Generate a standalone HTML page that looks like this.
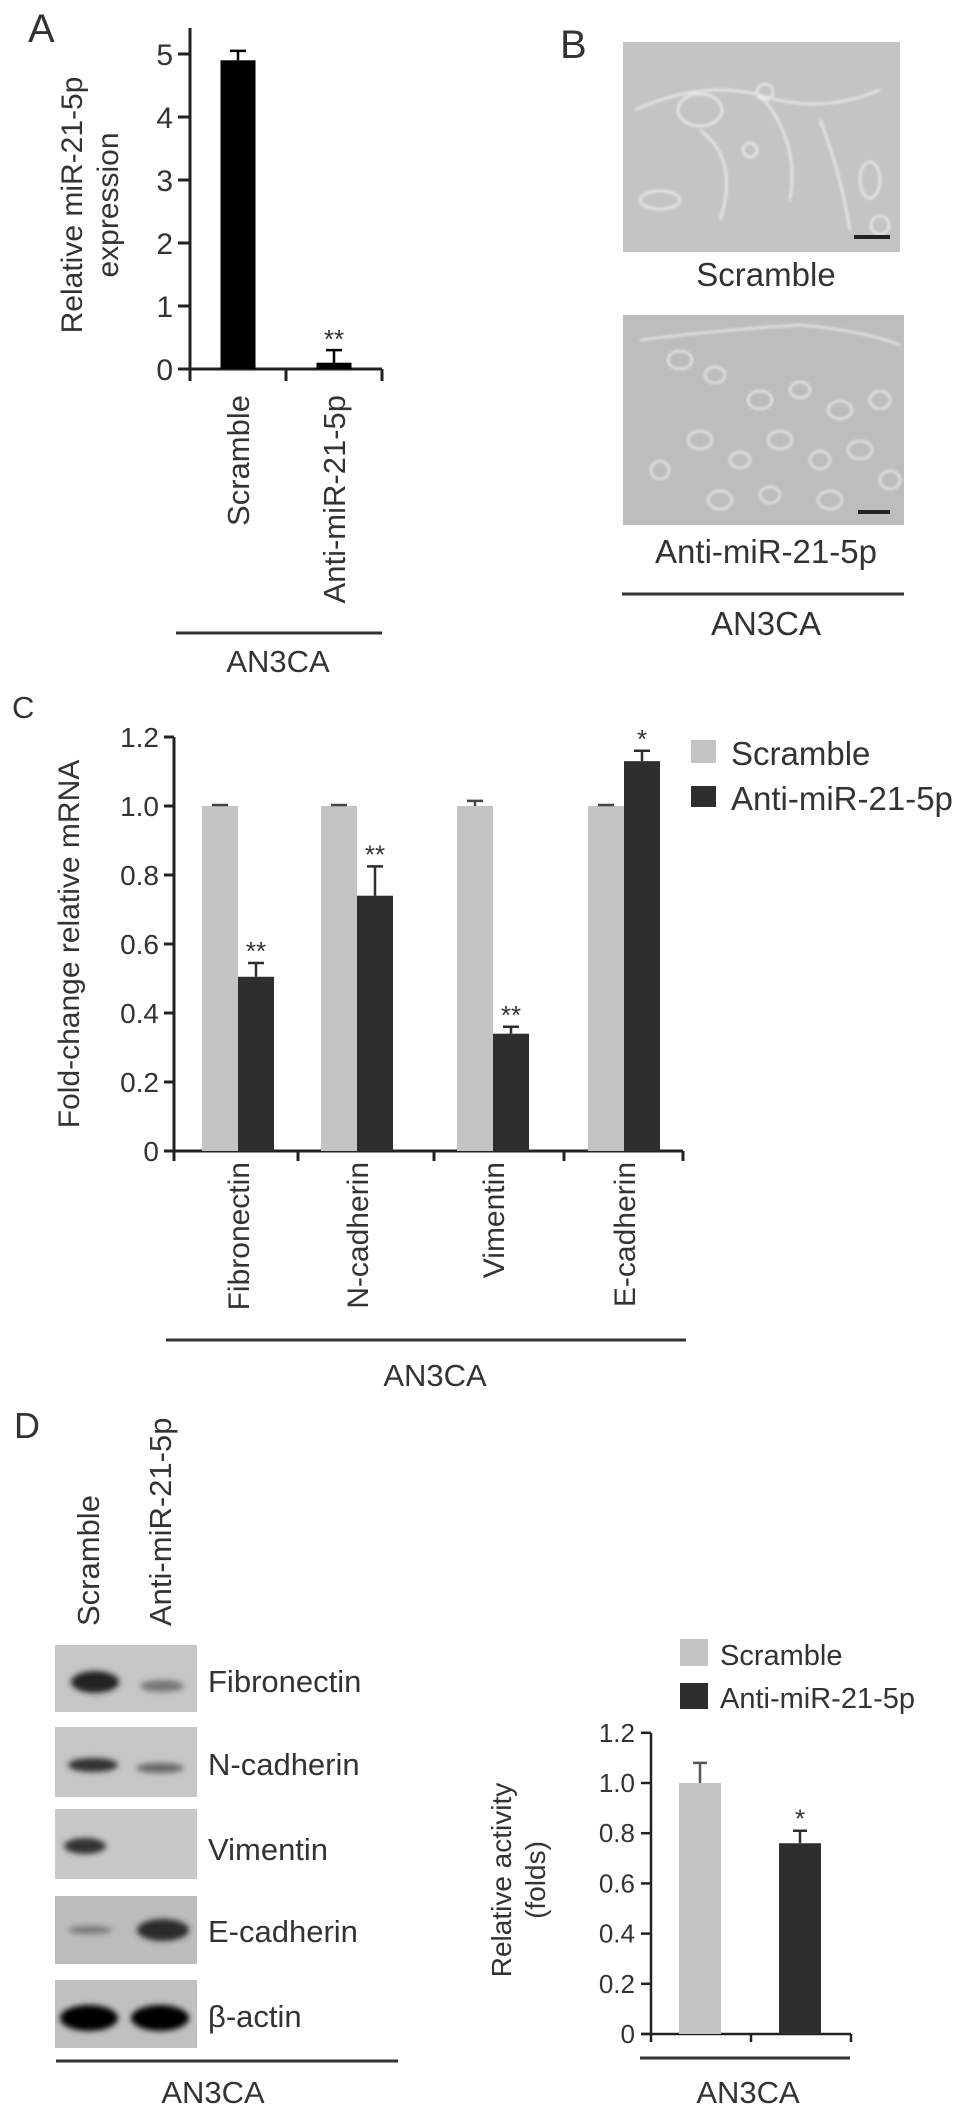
<!DOCTYPE html>
<html><head><meta charset="utf-8">
<style>
html,body{margin:0;padding:0;background:#fff;}
svg{display:block;font-family:"Liberation Sans",Arial,sans-serif;}
text{fill:#333;}
</style></head>
<body>
<svg id="fig" width="969" height="2118" viewBox="0 0 969 2118" xmlns="http://www.w3.org/2000/svg">
<defs>
  <filter id="blur3" x="-30%" y="-80%" width="160%" height="260%"><feGaussianBlur stdDeviation="3"/></filter>
  <filter id="blur1"><feGaussianBlur stdDeviation="1.2"/></filter>
</defs>

<text x="28" y="42" font-size="40">A</text>
<text x="560" y="58" font-size="40">B</text>
<text x="12" y="718" font-size="31">C</text>
<text x="14" y="1438" font-size="36">D</text>

<g id="panelA"></g>

<g>
  <g>
    <rect x="623" y="42" width="277" height="210" fill="#c4c4c4"/>
    <g fill="none" stroke="#e8e8e8" stroke-width="2.5" filter="url(#blur1)">
      <path d="M635 110 Q700 80 760 95 Q820 115 880 90"/>
      <path d="M700 130 Q740 160 720 220 M760 95 Q800 140 790 200 M820 120 Q840 170 850 230"/>
      <ellipse cx="700" cy="110" rx="22" ry="16"/><ellipse cx="765" cy="92" rx="8" ry="8"/>
      <ellipse cx="750" cy="150" rx="7" ry="7"/><ellipse cx="870" cy="180" rx="10" ry="18"/>
      <ellipse cx="660" cy="200" rx="20" ry="9"/><ellipse cx="880" cy="225" rx="9" ry="9"/>
    </g>
    <rect x="854" y="235" width="36" height="4" fill="#222"/>
  </g>
  <text x="766" y="286" font-size="33" text-anchor="middle">Scramble</text>
  <g>
    <rect x="623" y="315" width="281" height="210" fill="#bdbdbd"/>
    <g fill="none" stroke="#e6e6e6" stroke-width="2.2" filter="url(#blur1)">
      <ellipse cx="680" cy="360" rx="12" ry="9"/><ellipse cx="715" cy="375" rx="10" ry="8"/>
      <ellipse cx="760" cy="400" rx="12" ry="9"/><ellipse cx="800" cy="390" rx="10" ry="8"/>
      <ellipse cx="840" cy="410" rx="12" ry="9"/><ellipse cx="880" cy="400" rx="10" ry="9"/>
      <ellipse cx="700" cy="440" rx="12" ry="9"/><ellipse cx="740" cy="460" rx="10" ry="8"/>
      <ellipse cx="780" cy="440" rx="12" ry="9"/><ellipse cx="820" cy="460" rx="10" ry="9"/>
      <ellipse cx="860" cy="450" rx="12" ry="9"/><ellipse cx="890" cy="480" rx="10" ry="9"/>
      <ellipse cx="720" cy="500" rx="12" ry="9"/><ellipse cx="770" cy="495" rx="10" ry="8"/>
      <ellipse cx="830" cy="500" rx="12" ry="9"/><ellipse cx="660" cy="470" rx="9" ry="9"/>
      <path d="M640 340 Q720 330 800 325 Q860 330 900 345"/>
    </g>
    <rect x="858" y="510" width="32" height="4" fill="#222"/>
  </g>
  <text x="766" y="563" font-size="33" text-anchor="middle">Anti-miR-21-5p</text>
  <line x1="622" y1="594" x2="904" y2="594" stroke="#333" stroke-width="3"/>
  <text x="766" y="635" font-size="33" text-anchor="middle">AN3CA</text>
</g>

<g id="panelC"></g>

<g>
  <text transform="translate(99,1626) rotate(-90)" font-size="31">Scramble</text>
  <text transform="translate(171,1626) rotate(-90)" font-size="31">Anti-miR-21-5p</text>
  <g>
    <rect x="55" y="1645" width="142" height="67" fill="#c6c6c6"/>
    <ellipse cx="95" cy="1682" rx="24" ry="11" fill="#222" filter="url(#blur3)"/>
    <ellipse cx="162" cy="1686" rx="22" ry="6" fill="#777" filter="url(#blur3)"/>
  </g>
  <g>
    <rect x="55" y="1727" width="142" height="70" fill="#c6c6c6"/>
    <ellipse cx="93" cy="1765" rx="25" ry="7" fill="#333" filter="url(#blur3)"/>
    <ellipse cx="160" cy="1768" rx="24" ry="5" fill="#666" filter="url(#blur3)"/>
  </g>
  <g>
    <rect x="55" y="1809" width="142" height="70" fill="#c8c8c8"/>
    <ellipse cx="85" cy="1846" rx="21" ry="8" fill="#333" filter="url(#blur3)"/>
  </g>
  <g>
    <rect x="55" y="1896" width="142" height="68" fill="#bcbcbc"/>
    <ellipse cx="90" cy="1930" rx="22" ry="4" fill="#777" filter="url(#blur3)"/>
    <ellipse cx="163" cy="1930" rx="26" ry="11" fill="#2a2a2a" filter="url(#blur3)"/>
  </g>
  <g>
    <rect x="55" y="1980" width="142" height="68" fill="#c0c0c0"/>
    <ellipse cx="89" cy="2018" rx="29" ry="13" fill="#000" filter="url(#blur3)"/>
    <ellipse cx="160" cy="2018" rx="29" ry="13" fill="#000" filter="url(#blur3)"/>
  </g>
  <text x="208" y="1692" font-size="31">Fibronectin</text>
  <text x="208" y="1775" font-size="31">N-cadherin</text>
  <text x="208" y="1860" font-size="31">Vimentin</text>
  <text x="208" y="1942" font-size="31">E-cadherin</text>
  <text x="208" y="2027" font-size="31">β-actin</text>
  <line x1="56" y1="2061" x2="398" y2="2061" stroke="#333" stroke-width="3"/>
  <text x="213" y="2103" font-size="31" text-anchor="middle">AN3CA</text>
</g>

<g id="panelD"></g>
</svg>

<script>
// ---- Panel A data ----
const aCategories = ["Scramble", "Anti-miR-21-5p"];
const aValues = [4.9, 0.1];
const aErrors = [0.15, 0.2];
const aStars = ["", "**"];
const aTicks = [0, 1, 2, 3, 4, 5];

// ---- Panel C data ----
const cCategories = ["Fibronectin", "N-cadherin", "Vimentin", "E-cadherin"];
const cScramble = [1.0, 1.0, 1.0, 1.0];
const cScrambleErr = [0.003, 0.003, 0.015, 0.003];
const cAnti = [0.505, 0.74, 0.34, 1.13];
const cAntiErr = [0.04, 0.085, 0.02, 0.03];
const cStars = ["**", "**", "**", "*"];
const cTicks = ["0", "0.2", "0.4", "0.6", "0.8", "1.0", "1.2"];

// ---- Panel D chart data ----
const dCategories = ["Scramble", "Anti-miR-21-5p"];
const dValues = [1.0, 0.76];
const dErrors = [0.08, 0.05];
const dStars = ["", "*"];
const dTicks = ["0", "0.2", "0.4", "0.6", "0.8", "1.0", "1.2"];

const NS = "http://www.w3.org/2000/svg";
function mk(parent, tag, attrs, txt) {
  const e = document.createElementNS(NS, tag);
  for (const k in attrs) e.setAttribute(k, attrs[k]);
  if (txt !== undefined) e.textContent = txt;
  parent.appendChild(e);
  return e;
}

(function(){
  const g = document.getElementById("panelA");
  const x0 = 190, y0 = 369, yTop = 28, xEnd = 382;
  const yA = v => y0 - v * 63;
  const slot = (xEnd - x0) / aCategories.length;
  const cx = i => x0 + slot * (i + 0.5);
  let e = mk(g, "line", {x1:x0, y1:yTop, x2:x0, y2:y0+12, stroke:"#222", "stroke-width":3});
  
  
  e = mk(g, "line", {x1:x0-12, y1:y0, x2:xEnd, y2:y0, stroke:"#222", "stroke-width":3});
  
  
  for (let i = 1; i <= aCategories.length; i++) {
    e = mk(g, "line", {x1:x0+slot*i, y1:y0, x2:x0+slot*i, y2:y0+12, stroke:"#222", "stroke-width":3});
    
    
  }
  aTicks.forEach(t => {
    e = mk(g, "line", {x1:x0-12, y1:yA(t), x2:x0, y2:yA(t), stroke:"#222", "stroke-width":3});
    
    
    e = mk(g, "text", {x:x0-17, y:yA(t)+11, "font-size":30, "text-anchor":"end"}, String(t));
    
    
  });
  aCategories.forEach((c, i) => {
    const bw = 35, x = cx(i) - bw/2;
    e = mk(g, "rect", {x:x, y:yA(aValues[i]), width:bw, height:y0-yA(aValues[i]), fill:"#000"});
    
    
    const ye = yA(aValues[i] + aErrors[i]);
    e = mk(g, "path", {d:`M${cx(i)} ${yA(aValues[i])} V${ye} M${cx(i)-8} ${ye} H${cx(i)+8}`, stroke:"#000", "stroke-width":2.5, fill:"none"});
    
    
    if (aStars[i]) {
      e = mk(g, "text", {x:cx(i), y:ye-2, "font-size":26, "text-anchor":"middle"}, aStars[i]);
      
      
    }
    e = mk(g, "text", {transform:`translate(${cx(i)+11},${395}) rotate(-90)`, "font-size":31, "text-anchor":"end"}, c);
    
    
  });
  e = mk(g, "text", {transform:"translate(82,205) rotate(-90)", "font-size":30, "text-anchor":"middle"}, "Relative miR-21-5p");
  
  
  e = mk(g, "text", {transform:"translate(118,205) rotate(-90)", "font-size":30, "text-anchor":"middle"}, "expression");
  
  
  e = mk(g, "line", {x1:176, y1:633, x2:382, y2:633, stroke:"#333", "stroke-width":3});
  
  
  e = mk(g, "text", {x:278, y:672, "font-size":31, "text-anchor":"middle"}, "AN3CA");
  
  
})();

(function(){
  const g = document.getElementById("panelC");
  const x0 = 174, y0 = 1151, yTop = 737, xEnd = 683;
  const yC = v => y0 - v * 345;
  const groupStart = [202, 321, 457, 588];
  const bw = 36;
  let e = mk(g, "line", {x1:x0, y1:yTop, x2:x0, y2:y0+10, stroke:"#222", "stroke-width":3});
  
  
  e = mk(g, "line", {x1:x0-10, y1:y0, x2:xEnd, y2:y0, stroke:"#222", "stroke-width":3});
  
  
  [298, 434, 564, 683].forEach(tx => {
    e = mk(g, "line", {x1:tx, y1:y0, x2:tx, y2:y0+10, stroke:"#222", "stroke-width":3});
    
    
  });
  cTicks.forEach(t => {
    const y = yC(parseFloat(t));
    e = mk(g, "line", {x1:x0-10, y1:y, x2:x0, y2:y, stroke:"#222", "stroke-width":3});
    
    
    e = mk(g, "text", {x:x0-15, y:y+10, "font-size":28, "text-anchor":"end"}, t);
    
    
  });
  cCategories.forEach((c, i) => {
    const xs = groupStart[i], xa = xs + bw;
    e = mk(g, "rect", {x:xs, y:yC(cScramble[i]), width:bw, height:y0-yC(cScramble[i]), fill:"#c4c4c4"});
    
    
    let ye = yC(cScramble[i] + cScrambleErr[i]);
    e = mk(g, "path", {d:`M${xs+bw/2} ${yC(cScramble[i])} V${ye} M${xs+bw/2-8} ${ye} H${xs+bw/2+8}`, stroke:"#444", "stroke-width":2.5, fill:"none"});
    
    
    e = mk(g, "rect", {x:xa, y:yC(cAnti[i]), width:bw, height:y0-yC(cAnti[i]), fill:"#2e2e2e"});
    
    
    ye = yC(cAnti[i] + cAntiErr[i]);
    e = mk(g, "path", {d:`M${xa+bw/2} ${yC(cAnti[i])} V${ye} M${xa+bw/2-8} ${ye} H${xa+bw/2+8}`, stroke:"#2e2e2e", "stroke-width":2.5, fill:"none"});
    
    
    e = mk(g, "text", {x:xa+bw/2, y:ye-3, "font-size":26, "text-anchor":"middle"}, cStars[i]);
    
    
    e = mk(g, "text", {transform:`translate(${xs+bw+11},1162) rotate(-90)`, "font-size":30, "text-anchor":"end"}, c);
    
    
  });
  e = mk(g, "text", {transform:"translate(79,944) rotate(-90)", "font-size":30, "text-anchor":"middle"}, "Fold-change relative mRNA");
  
  
  e = mk(g, "rect", {x:691, y:740, width:25, height:23, fill:"#c4c4c4"});
  
  
  e = mk(g, "text", {x:731, y:765, "font-size":33}, "Scramble");
  
  
  e = mk(g, "rect", {x:691, y:786, width:25, height:21, fill:"#2e2e2e"});
  
  
  e = mk(g, "text", {x:731, y:810, "font-size":33}, "Anti-miR-21-5p");
  
  
  e = mk(g, "line", {x1:166, y1:1340, x2:686, y2:1340, stroke:"#333", "stroke-width":3});
  
  
  e = mk(g, "text", {x:435, y:1386, "font-size":31, "text-anchor":"middle"}, "AN3CA");
  
  
})();

(function(){
  const g = document.getElementById("panelD");
  const x0 = 651, y0 = 2034, yTop = 1733, xEnd = 851;
  const yD = v => y0 - v * 251;
  const slot = (xEnd - x0) / dCategories.length;
  const cx = i => x0 + slot * (i + 0.5);
  const fills = ["#c4c4c4", "#2e2e2e"];
  let e = mk(g, "line", {x1:x0, y1:yTop, x2:x0, y2:y0+8, stroke:"#222", "stroke-width":2.5});
  
  
  e = mk(g, "line", {x1:x0-10, y1:y0, x2:xEnd, y2:y0, stroke:"#222", "stroke-width":2.5});
  
  
  for (let i = 1; i <= dCategories.length; i++) {
    e = mk(g, "line", {x1:x0+slot*i, y1:y0, x2:x0+slot*i, y2:y0+8, stroke:"#222", "stroke-width":2.5});
    
    
  }
  dTicks.forEach(t => {
    const y = yD(parseFloat(t));
    e = mk(g, "line", {x1:x0-10, y1:y, x2:x0, y2:y, stroke:"#222", "stroke-width":2.5});
    
    
    e = mk(g, "text", {x:x0-16, y:y+9, "font-size":26, "text-anchor":"end"}, t);
    
    
  });
  dCategories.forEach((c, i) => {
    const bw = 42, x = cx(i) - bw/2 - 1;
    e = mk(g, "rect", {x:x, y:yD(dValues[i]), width:bw, height:y0-yD(dValues[i]), fill:fills[i]});
    
    
    const mx = x + bw/2, ye = yD(dValues[i] + dErrors[i]);
    e = mk(g, "path", {d:`M${mx} ${yD(dValues[i])} V${ye} M${mx-7} ${ye} H${mx+7}`, stroke:fills[i] === "#c4c4c4" ? "#555" : "#2e2e2e", "stroke-width":2.5, fill:"none"});
    
    
    if (dStars[i]) {
      e = mk(g, "text", {x:mx, y:ye-3, "font-size":26, "text-anchor":"middle"}, dStars[i]);
      
      
    }
  });
  e = mk(g, "text", {transform:"translate(511,1880) rotate(-90)", "font-size":28, "text-anchor":"middle"}, "Relative activity");
  
  
  e = mk(g, "text", {transform:"translate(545,1880) rotate(-90)", "font-size":28, "text-anchor":"middle"}, "(folds)");
  
  
  e = mk(g, "rect", {x:680, y:1639, width:28, height:27, fill:"#c4c4c4"});
  
  
  e = mk(g, "text", {x:720, y:1665, "font-size":29}, "Scramble");
  
  
  e = mk(g, "rect", {x:680, y:1683, width:28, height:26, fill:"#2e2e2e"});
  
  
  e = mk(g, "text", {x:720, y:1708, "font-size":29}, "Anti-miR-21-5p");
  
  
  e = mk(g, "line", {x1:640, y1:2058, x2:850, y2:2058, stroke:"#333", "stroke-width":3});
  
  
  e = mk(g, "text", {x:748, y:2103, "font-size":31, "text-anchor":"middle"}, "AN3CA");
  
  
})();
</script>
</body></html>
